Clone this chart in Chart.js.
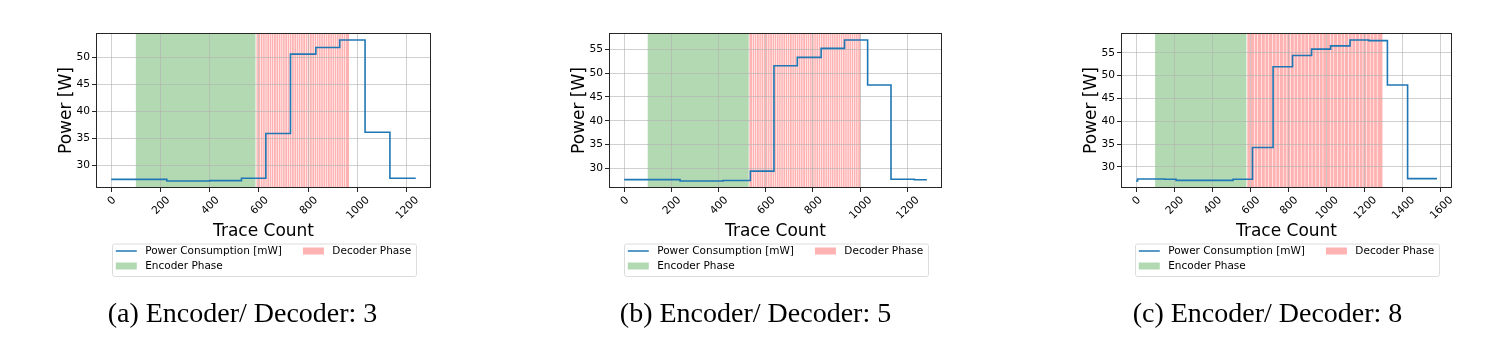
<!DOCTYPE html>
<html><head><meta charset="utf-8">
<script src="https://cdn.jsdelivr.net/npm/chart.js@4.4.1/dist/chart.umd.min.js"></script>
<style>
html,body{margin:0;padding:0;background:#fff;width:1508px;height:357px;overflow:hidden;position:relative}
canvas{position:absolute;top:0}
</style></head><body>
<canvas id="ca" width="483" height="357" style="left:0px"></canvas>
<canvas id="cb" width="483" height="357" style="left:513px"></canvas>
<canvas id="cc" width="483" height="357" style="left:1025px"></canvas>
<script>
// ---------------- data ----------------
const legendLabels = ['Power Consumption [mW]', 'Encoder Phase', 'Decoder Phase'];
const xTitle = 'Trace Count';
const yTitle = 'Power [W]';

const xTicksA = [0, 200, 400, 600, 800, 1000, 1200];
const xTicksB = [0, 200, 400, 600, 800, 1000, 1200];
const xTicksC = [0, 200, 400, 600, 800, 1000, 1200, 1400, 1600];
const yTicksA = [30, 35, 40, 45, 50];
const yTicksB = [30, 35, 40, 45, 50, 55];
const yTicksC = [30, 35, 40, 45, 50, 55];

const traceA = [0, 226, 400, 529, 628, 728, 831, 928, 1031, 1132, 1237];
const powerA = [27.34, 27.04, 27.1, 27.54, 35.85, 50.62, 51.86, 53.24, 36.1, 27.54, 27.54];

const traceB = [0, 237, 420, 535, 635, 734, 835, 934, 1032, 1131, 1230, 1283];
const powerB = [27.62, 27.34, 27.45, 29.4, 51.57, 53.32, 55.2, 56.96, 47.5, 27.7, 27.6, 27.6];

const traceC = [0, 8, 150, 210, 509, 611, 719, 821, 921, 1021, 1123, 1221, 1319, 1425, 1579];
const powerC = [26.93, 27.37, 27.3, 27.05, 27.3, 34.25, 51.93, 54.4, 55.8, 56.5, 57.78, 57.65, 47.95, 27.45, 27.45];

const encoderA = [100, 586];
const encoderB = [100, 528];
const encoderC = [100, 579];

const decoderStartsA = [590, 598, 607, 617, 626, 634, 644, 653, 661, 671, 680, 690, 698, 707, 717, 726, 734, 744, 753, 762, 771, 780, 790, 798, 807, 817, 826, 835, 844, 853, 862, 871, 880, 890, 899, 908, 917, 926, 935, 944, 953];
const decoderEndA = 966;
const decoderStartsB = [531, 545, 554, 563, 573, 582, 591, 601, 610, 619, 629, 638, 647, 657, 666, 675, 685, 694, 703, 713, 722, 731, 741, 750, 759, 769, 778, 787, 797, 806, 815, 825, 834, 843, 853, 862, 871, 881, 890, 899, 909, 918, 927, 937, 946, 955, 965, 974, 983, 992];
const decoderEndB = 1001;
const decoderStartsC = [584, 602, 622, 640, 660, 679, 697, 717, 736, 754, 774, 793, 811, 831, 850, 868, 888, 907, 925, 945, 964, 982, 1002, 1021, 1039, 1059, 1078, 1096, 1116, 1135, 1153, 1173, 1192, 1210, 1230, 1249, 1267];
const decoderEndC = 1293;

const captionA = '(a) Encoder/ Decoder: 3';
const captionB = '(b) Encoder/ Decoder: 5';
const captionC = '(c) Encoder/ Decoder: 8';

// ---------------- styles ----------------
const LINE = '#1f77b4';
const GREEN = 'rgba(0,128,0,0.3)';
const RED = 'rgba(255,0,0,0.3)';
const GRID = 'rgba(176,176,176,0.6)';
const SPINE = '#262626';
const FONT = '"DejaVu Sans", sans-serif';
const SERIF = '"Liberation Serif", "Times New Roman", serif';
const SMALL = 10.67;
const LEG = 10.5;
const GAP = 0.6;

function extent(arr) {
  const lo = Math.min(...arr), hi = Math.max(...arr), m = (hi - lo) * 0.05;
  return [lo - m, hi + m];
}

function decoPlugin(p) {
  return {
    id: 'deco_' + p.id,
    beforeDraw(chart) {
      const {ctx, chartArea: a, scales: {x}} = chart;
      ctx.save();
      ctx.beginPath();
      ctx.rect(a.left, a.top, a.right - a.left, a.bottom - a.top);
      ctx.clip();
      const h = a.bottom - a.top;
      ctx.fillStyle = GREEN;
      const g1 = x.getPixelForValue(p.enc[0]), g2 = x.getPixelForValue(p.enc[1]);
      ctx.fillRect(g1, a.top, g2 - g1, h);
      ctx.fillStyle = RED;
      for (let i = 0; i < p.dec.length; i++) {
        const s = p.dec[i];
        const e = i + 1 < p.dec.length ? p.dec[i + 1] : p.decEnd;
        const x1 = x.getPixelForValue(s);
        const x2 = x.getPixelForValue(e) - (i + 1 < p.dec.length ? GAP : 0);
        ctx.fillRect(x1, a.top, x2 - x1, h);
      }
      ctx.restore();
    },
    afterDatasetsDraw(chart) {
      const {ctx, chartArea: a} = chart;
      ctx.save();
      ctx.strokeStyle = SPINE;
      ctx.lineWidth = 1;
      ctx.strokeRect(Math.round(a.left) + 0.5, Math.round(a.top) + 0.5,
        Math.round(a.right) - Math.round(a.left) - 1, Math.round(a.bottom) - Math.round(a.top) - 1);
      ctx.restore();
    },
    afterDraw(chart) {
      const {ctx, chartArea: a, scales: {x}} = chart;
      ctx.save();
      // rotated x tick labels (centered like matplotlib)
      ctx.font = SMALL + 'px ' + FONT;
      ctx.fillStyle = '#000';
      ctx.textAlign = 'center';
      ctx.textBaseline = 'middle';
      const y0 = a.bottom + 7;
      for (const v of p.xTicks) {
        const label = String(v);
        const w = ctx.measureText(label).width;
        const side = (w + 0.73 * SMALL) * Math.SQRT1_2;
        const cx = x.getPixelForValue(v), cy = y0 + side / 2;
        ctx.save();
        ctx.translate(cx, cy);
        ctx.rotate(-Math.PI / 4);
        ctx.fillText(label, 0, 1);
        ctx.restore();
      }
      // legend
      ctx.font = LEG + 'px ' + FONT;
      const em = LEG;
      const cxp = (a.left + a.right) / 2;
      const w1 = ctx.measureText(legendLabels[0]).width;
      const w3 = ctx.measureText(legendLabels[2]).width;
      const pad = 0.4 * em, hl = 2 * em, htp = 0.8 * em, cs = 2 * em;
      const tx1 = pad + hl + htp;
      const col2 = tx1 + w1 + cs;
      const LW = col2 + hl + htp + w3 + pad;
      const L = cxp - LW / 2, T = 243.5, LH = 32.5;
      ctx.fillStyle = 'rgba(255,255,255,0.8)';
      ctx.strokeStyle = '#dcdcdc';
      ctx.lineWidth = 1;
      ctx.beginPath();
      ctx.roundRect(Math.round(L) + 0.5, T + 0.5, Math.round(LW), LH, 2);
      ctx.fill();
      ctx.stroke();
      const r1 = T + 7.5, r2 = T + 22.5;
      ctx.strokeStyle = LINE;
      ctx.lineWidth = 1.5;
      ctx.beginPath();
      ctx.moveTo(L + pad, r1); ctx.lineTo(L + pad + hl, r1); ctx.stroke();
      ctx.fillStyle = GREEN;
      ctx.fillRect(L + pad, r2 - 3.5, hl, 7);
      ctx.fillStyle = RED;
      ctx.fillRect(L + col2, r1 - 3.5, hl, 7);
      ctx.fillStyle = '#000';
      ctx.textAlign = 'left';
      ctx.fillText(legendLabels[0], L + tx1, r1);
      ctx.fillText(legendLabels[1], L + tx1, r2);
      ctx.fillText(legendLabels[2], L + col2 + hl + htp, r1);
      // caption
      ctx.font = '28px ' + SERIF;
      ctx.textAlign = 'center';
      ctx.textBaseline = 'alphabetic';
      ctx.fillText(p.caption, 242.5, 322);
      ctx.restore();
    }
  };
}

function makeChart(p) {
  const [xmin, xmax] = extent(p.x);
  const [ymin, ymax] = extent(p.y);
  const W = 483;
  new Chart(document.getElementById(p.id), {
    type: 'line',
    data: {
      datasets: [{
        label: legendLabels[0],
        data: p.x.map((v, i) => ({x: v, y: p.y[i]})),
        borderColor: LINE,
        borderWidth: 1.6,
        pointRadius: 0,
        stepped: true,
        fill: false,
        tension: 0
      }]
    },
    options: {
      responsive: false,
      animation: false,
      devicePixelRatio: 1,
      layout: {padding: {left: 56.5, top: 33, right: W - p.plotRight, bottom: 115}},
      plugins: {legend: {display: false}, tooltip: {enabled: false}},
      scales: {
        x: {
          type: 'linear', min: xmin, max: xmax,
          afterBuildTicks: s => { s.ticks = p.xTicks.map(v => ({value: v})); },
          afterFit: s => { s.height = 54; },
          ticks: {display: false},
          grid: {color: GRID, lineWidth: 1, tickLength: 4, tickColor: SPINE, drawTicks: true},
          border: {display: false},
          title: {display: true, text: xTitle, color: '#000', font: {family: FONT, size: 17}, padding: 0}
        },
        y: {
          type: 'linear', min: ymin, max: ymax,
          afterBuildTicks: s => { s.ticks = p.yTicks.map(v => ({value: v})); },
          afterFit: s => { s.width = 96 - 56.5; },
          ticks: {color: '#000', font: {family: FONT, size: SMALL}, padding: 2},
          grid: {color: GRID, lineWidth: 1, tickLength: 4, tickColor: SPINE, drawTicks: true},
          border: {display: false},
          title: {display: true, text: yTitle, color: '#000', font: {family: FONT, size: 17}, padding: 0}
        }
      }
    },
    plugins: [decoPlugin(p)]
  });
}

makeChart({id: 'ca', x: traceA, y: powerA, xTicks: xTicksA, yTicks: yTicksA, enc: encoderA, dec: decoderStartsA, decEnd: decoderEndA, caption: captionA, plotRight: 431});
makeChart({id: 'cb', x: traceB, y: powerB, xTicks: xTicksB, yTicks: yTicksB, enc: encoderB, dec: decoderStartsB, decEnd: decoderEndB, caption: captionB, plotRight: 429});
makeChart({id: 'cc', x: traceC, y: powerC, xTicks: xTicksC, yTicks: yTicksC, enc: encoderC, dec: decoderStartsC, decEnd: decoderEndC, caption: captionC, plotRight: 427});
</script>
</body></html>
